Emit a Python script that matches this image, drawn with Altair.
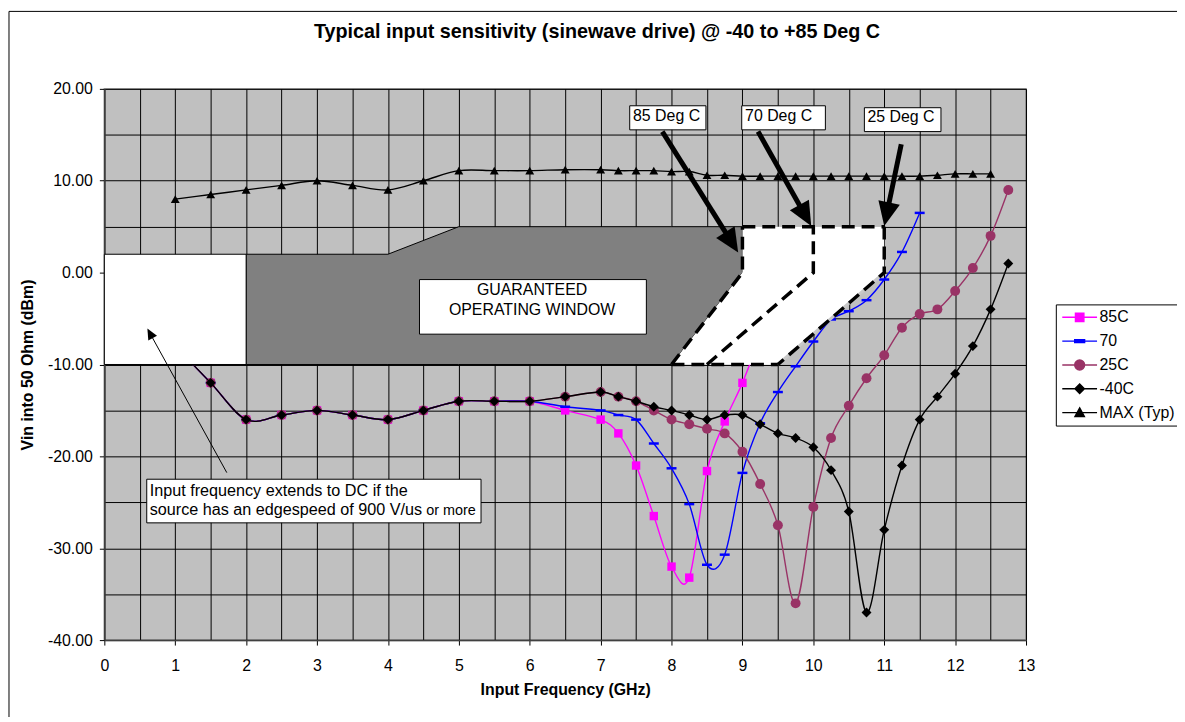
import math
import altair as alt
import pandas as pd

FONT = "Liberation Sans"
TITLE = "Typical input sensitivity (sinewave drive) @ -40 to +85 Deg C"
X_TITLE = "Input Frequency (GHz)"
Y_TITLE = "Vin into 50 Ohm (dBm)"

# ---------------- series data ----------------
series_names = ["85C", "70", "25C", "-40C", "MAX (Typ)"]
legend_labels = ["85C", "70", "25C", "\u00a0-40C", "MAX (Typ)"]

freq_85 = [1.0, 1.5, 2.0, 2.5, 3.0, 3.5, 4.0, 4.5, 5.0, 5.5, 6.0,
           6.5, 7.0, 7.25, 7.5, 7.75, 8.0, 8.25, 8.5, 8.75, 9.0, 9.25]
vin_85 = [-8, -12, -16, -15.5, -15, -15.5, -16, -15, -14, -14, -14,
          -15, -16, -17.5, -21, -26.5, -32, -33.2, -21.6, -16.2, -12, -7]

freq_70 = [1.0, 1.5, 2.0, 2.5, 3.0, 3.5, 4.0, 4.5, 5.0, 5.5, 6.0,
           6.5, 7.0, 7.25, 7.5, 7.75, 8.0, 8.25, 8.5, 8.75, 9.0, 9.25,
           9.5, 9.75, 10.0, 10.25, 10.5, 10.75, 11.0, 11.25, 11.5]
vin_70 = [-8, -12, -16, -15.5, -15, -15.5, -16, -15, -14, -14, -14,
          -14.6, -15, -15.5, -16, -18.6, -21.3, -25.2, -31.8, -30.7, -21.8, -16.4,
          -13, -10.2, -7.5, -5.1, -4.2, -3, -0.75, 2.25, 6.5]

freq_25 = [1.0, 1.5, 2.0, 2.5, 3.0, 3.5, 4.0, 4.5, 5.0, 5.5, 6.0,
           6.5, 7.0, 7.25, 7.5, 7.75, 8.0, 8.25, 8.5, 8.75, 9.0, 9.25,
           9.5, 9.75, 10.0, 10.25, 10.5, 10.75, 11.0, 11.25, 11.5, 11.75,
           12.0, 12.25, 12.5, 12.75]
vin_25 = [-8, -12, -16, -15.5, -15, -15.5, -16, -15, -14, -14, -14,
          -13.5, -13, -13.5, -14, -15, -16, -16.5, -17, -17.5, -19.5, -23,
          -27.5, -36, -25.5, -18, -14.5, -11.5, -9, -6, -4.5, -4,
          -2, 0.5, 4, 9]

freq_m40 = [1.0, 1.5, 2.0, 2.5, 3.0, 3.5, 4.0, 4.5, 5.0, 5.5, 6.0,
            6.5, 7.0, 7.25, 7.5, 7.75, 8.0, 8.25, 8.5, 8.75, 9.0, 9.25,
            9.5, 9.75, 10.0, 10.25, 10.5, 10.75, 11.0, 11.25, 11.5, 11.75,
            12.0, 12.25, 12.5, 12.75]
vin_m40 = [-8, -12, -16, -15.5, -15, -15.5, -16, -15, -14, -14, -14,
           -13.5, -13, -13.5, -14, -14.6, -15, -15.5, -16, -15.5, -15.5, -16.5,
           -17.5, -18, -19, -21.5, -26, -37, -28, -21, -16, -13.5,
           -11, -8, -4, 1]

freq_max = [1.0, 1.5, 2.0, 2.5, 3.0, 3.5, 4.0, 4.5, 5.0, 5.5, 6.0, 6.5,
            7.0, 7.25, 7.5, 7.75, 8.0, 8.25, 8.5, 8.75, 9.0, 9.25, 9.5, 9.75,
            10.0, 10.25, 10.5, 10.75, 11.0, 11.25, 11.5, 11.75, 12.0, 12.25, 12.5]
vin_max = [8, 8.5, 9, 9.5, 10, 9.5, 9, 10, 11.1, 11.1, 11.1, 11.2,
           11.2, 11.1, 11.1, 11.1, 11.0, 11.0, 10.6, 10.6, 10.5, 10.5, 10.5, 10.5,
           10.5, 10.5, 10.5, 10.5, 10.5, 10.5, 10.5, 10.6, 10.75, 10.75, 10.75]

# axis tick values
x_grid_values = [0, 0.5, 1, 1.5, 2, 2.5, 3, 3.5, 4, 4.5, 5, 5.5, 6, 6.5, 7, 7.5, 8, 8.5, 9,
                 9.5, 10, 10.5, 11, 11.5, 12, 12.5, 13]
x_label_values = [0, 1, 2, 3, 4, 5, 6, 7, 8, 9, 10, 11, 12, 13]
y_grid_values = [-40, -35, -30, -25, -20, -15, -10, -5, 0, 5, 10, 15, 20]
y_label_values = [-40, -30, -20, -10, 0, 10, 20]

# ---------------- annotation shapes (data units) ----------------
gray_x = [2, 4, 5, 8, 9]
gray_top = [2, 2, 5, 5, 5]
gray_bot = [-10, -10, -10, -10, 0]

win_piece = ["a", "a", "a", "b", "b", "b"]
win_x = [8, 9, 9.5, 9, 9.5, 11]
win_top = [-10, 0, 0, 5, 5, 5]
win_bot = [-10, -10, -10, -10, -10, 0]

dash_seg = ["s85", "s85", "s85", "top", "top", "s25", "s25", "s25", "bot", "bot", "s70", "s70", "s70"]
dash_x = [8, 9, 9, 9, 11, 11, 11, 9.5, 8, 9.5, 8.5, 10, 10]
dash_y = [-10, 0, 5, 5, 5, 5, 0, -10, -10, -10, -10, 0, 5]

dc_x = [0]
dc_x2 = [2]
dc_y = [2]
dc_y2 = [-10]

tbox_text = ["85 Deg C", "70 Deg C", "25 Deg C"]
tbox_x1 = [7.41, 8.99, 10.72]
tbox_x2 = [8.485, 10.17, 11.80]
tbox_y1 = [18.16, 18.16, 17.95]
tbox_y2 = [15.54, 15.54, 15.35]
tbox_tx = [7.93, 9.51, 11.236]
tbox_ty = [17.08, 17.08, 16.9]

arr_x0 = [7.87, 9.22, 11.24]
arr_y0 = [15.35, 15.35, 13.98]
arr_x1 = [8.94, 9.97, 11.0]
arr_y1 = [2.19, 5.08, 5.08]

thin_x0 = [1.727]
thin_y0 = [-21.77]
thin_x1 = [0.607]
thin_y1 = [-6.09]

gow_box = dict(x1=4.445, x2=7.645, y1=-0.757, y2=-6.70)
gow_lines = ["GUARANTEED", "OPERATING WINDOW"]
gow_tx = [6.033, 6.033]
gow_ty = [-1.90, -4.11]

note_box = dict(x1=0.598, x2=5.313, y1=-22.49, y2=-27.24)
note_lines = ["Input frequency extends to DC if the", "source has an edgespeed of 900 V/us"]
note_tx = [0.64, 0.64]
note_ty = [-24.29, -26.38]
note_small = ["or more"]
note_small_x = [4.539]
note_small_y = [-26.38]

# ---------------- geometry helpers ----------------
W, H = 928, 555
X_DOM = [0, 13]
Y_DOM = [-40, 20]
PX = W / (X_DOM[1] - X_DOM[0])
PY = H / (Y_DOM[1] - Y_DOM[0])


def arrow_frame(x0s, y0s, x1s, y1s, head_len):
    rows = []
    for x0, y0, x1, y1 in zip(x0s, y0s, x1s, y1s):
        dx = (x1 - x0) * PX
        dy = -(y1 - y0) * PY
        L = math.hypot(dx, dy)
        ux, uy = dx / L, dy / L
        bx = x1 - ux * head_len * 0.6 / PX
        by = y1 + uy * head_len * 0.6 / PY
        ang = (math.degrees(math.atan2(ux, -uy)) + 360.0) % 360.0
        rows.append(dict(x0=x0, y0=y0, bx=bx, by=by, tx=x1, ty=y1, ang=ang))
    return pd.DataFrame(rows)


xs = alt.Scale(domain=X_DOM, nice=False, zero=False)
ys = alt.Scale(domain=Y_DOM, nice=False, zero=False)

# grid-only axes (every 0.5 GHz / 5 dB)
x_grid_axis = alt.Axis(orient="top", values=x_grid_values, grid=True, gridColor="#000000", gridWidth=1,
                       labels=False, ticks=False, domain=False, title=None)
y_grid_axis = alt.Axis(orient="right", values=y_grid_values, grid=True, gridColor="#000000", gridWidth=1,
                       labels=False, ticks=False, domain=False, title=None)

series_df = pd.concat([
    pd.DataFrame({"s": "85C", "f": freq_85, "v": vin_85}),
    pd.DataFrame({"s": "70", "f": freq_70, "v": vin_70}),
    pd.DataFrame({"s": "25C", "f": freq_25, "v": vin_25}),
    pd.DataFrame({"s": "-40C", "f": freq_m40, "v": vin_m40}),
    pd.DataFrame({"s": "MAX (Typ)", "f": freq_max, "v": vin_max}),
], ignore_index=True)

DASH_PATH = "M-1,-0.25L1,-0.25L1,0.25L-1,0.25Z"
style = {
    "85C": dict(color="#FF00FF", shape="square", size=72),
    "70": dict(color="#0000FF", shape=DASH_PATH, size=100),
    "25C": dict(color="#993366", shape="circle", size=100),
    "-40C": dict(color="#000000", shape="diamond", size=100),
    "MAX (Typ)": dict(color="#000000", shape="triangle-up", size=80),
}

base = alt.Chart(series_df)
layers = []

# invisible layer carrying the grid
layers.append(base.mark_point(opacity=0).encode(
    x=alt.X("f:Q", scale=xs, axis=x_grid_axis),
    y=alt.Y("v:Q", scale=ys, axis=y_grid_axis)))

# chart-area border (decoration)
layers.append(
    alt.Chart(alt.Data(values=[{"b": 1}])).mark_rect(
        fillOpacity=0, stroke="#000000", strokeWidth=1
    ).encode(x=alt.value(-96), x2=alt.value(1300), y=alt.value(-78), y2=alt.value(800))
)

for name in series_names:
    st = style[name]
    sub = base.transform_filter(alt.datum.s == name)
    xe = alt.X("f:Q", scale=xs, axis=None)
    ye = alt.Y("v:Q", scale=ys, axis=None)
    layers.append(sub.mark_line(color=st["color"], strokeWidth=1.4, interpolate="cardinal").encode(x=xe, y=ye))
    layers.append(sub.mark_point(shape=st["shape"], size=st["size"], filled=True, color=st["color"], opacity=1).encode(
        x=xe, y=ye))

gray_df = pd.DataFrame({"x": gray_x, "t": gray_top, "b": gray_bot})
layers.append(alt.Chart(gray_df).mark_area(fill="#808080", stroke="#000000", strokeWidth=1, interpolate="linear").encode(
    x=alt.X("x:Q", scale=xs, axis=None),
    y=alt.Y("t:Q", scale=ys, axis=None, stack=None),
    y2="b:Q"))

dc_df = pd.DataFrame({"x": dc_x, "x2": dc_x2, "y": dc_y, "y2": dc_y2})
layers.append(alt.Chart(dc_df).mark_rect(fill="#FFFFFF", stroke="#000000", strokeWidth=1).encode(
    x=alt.X("x:Q", scale=xs, axis=None), x2="x2:Q",
    y=alt.Y("y:Q", scale=ys, axis=None), y2="y2:Q"))

win_df = pd.DataFrame({"p": win_piece, "x": win_x, "t": win_top, "b": win_bot})
layers.append(alt.Chart(win_df).mark_area(fill="#FFFFFF", interpolate="linear").encode(
    x=alt.X("x:Q", scale=xs, axis=None),
    y=alt.Y("t:Q", scale=ys, axis=None, stack=None),
    y2="b:Q", detail="p:N"))

diag_df = pd.DataFrame({"x": [9.5, 11], "y": [-10, 0]})
layers.append(alt.Chart(diag_df).mark_line(color="#C8C8C8", strokeWidth=3).encode(
    x=alt.X("x:Q", scale=xs, axis=None), y=alt.Y("y:Q", scale=ys, axis=None)))

dash_df = pd.DataFrame({"seg": dash_seg, "x": dash_x, "y": dash_y, "o": list(range(len(dash_x)))})
layers.append(alt.Chart(dash_df).mark_line(color="#000000", strokeWidth=3.5, strokeDash=[13, 7]).encode(
    x=alt.X("x:Q", scale=xs, axis=None), y=alt.Y("y:Q", scale=ys, axis=None),
    detail="seg:N", order="o:Q"))

HEAD = "M0,0L-1,2.2L1,2.2Z"
arr_df = arrow_frame(arr_x0, arr_y0, arr_x1, arr_y1, 24)
layers.append(alt.Chart(arr_df).mark_rule(color="#000000", strokeWidth=5).encode(
    x=alt.X("x0:Q", scale=xs, axis=None), y=alt.Y("y0:Q", scale=ys, axis=None),
    x2="bx:Q", y2="by:Q"))
layers.append(alt.Chart(arr_df).mark_point(shape=HEAD, size=484, filled=True, color="#000000", opacity=1).encode(
    x=alt.X("tx:Q", scale=xs, axis=None), y=alt.Y("ty:Q", scale=ys, axis=None),
    angle=alt.Angle("ang:Q", scale=None)))

tbox_df = pd.DataFrame({"t": tbox_text, "x1": tbox_x1, "x2": tbox_x2, "y1": tbox_y1, "y2": tbox_y2,
                        "tx": tbox_tx, "ty": tbox_ty})
layers.append(alt.Chart(tbox_df).mark_rect(fill="#FFFFFF", stroke="#000000", strokeWidth=1).encode(
    x=alt.X("x1:Q", scale=xs, axis=None), x2="x2:Q",
    y=alt.Y("y1:Q", scale=ys, axis=None), y2="y2:Q"))
layers.append(alt.Chart(tbox_df).mark_text(font=FONT, fontSize=16, color="#000000", align="center", baseline="middle").encode(
    x=alt.X("tx:Q", scale=xs, axis=None), y=alt.Y("ty:Q", scale=ys, axis=None), text="t:N"))

gow_box_df = pd.DataFrame([gow_box])
layers.append(alt.Chart(gow_box_df).mark_rect(fill="#FFFFFF", stroke="#000000", strokeWidth=1).encode(
    x=alt.X("x1:Q", scale=xs, axis=None), x2="x2:Q",
    y=alt.Y("y1:Q", scale=ys, axis=None), y2="y2:Q"))
gow_df = pd.DataFrame({"t": gow_lines, "x": gow_tx, "y": gow_ty})
layers.append(alt.Chart(gow_df).mark_text(font=FONT, fontSize=16, color="#000000", align="center", baseline="middle").encode(
    x=alt.X("x:Q", scale=xs, axis=None), y=alt.Y("y:Q", scale=ys, axis=None), text="t:N"))

THIN_HEAD = "M0,0L-1,2.2L1,2.2Z"
thin_df = arrow_frame(thin_x0, thin_y0, thin_x1, thin_y1, 11)
layers.append(alt.Chart(thin_df).mark_rule(color="#000000", strokeWidth=1).encode(
    x=alt.X("x0:Q", scale=xs, axis=None), y=alt.Y("y0:Q", scale=ys, axis=None),
    x2="bx:Q", y2="by:Q"))
layers.append(alt.Chart(thin_df).mark_point(shape=THIN_HEAD, size=100, filled=True, color="#000000", opacity=1).encode(
    x=alt.X("tx:Q", scale=xs, axis=None), y=alt.Y("ty:Q", scale=ys, axis=None),
    angle=alt.Angle("ang:Q", scale=None)))

note_box_df = pd.DataFrame([note_box])
layers.append(alt.Chart(note_box_df).mark_rect(fill="#FFFFFF", stroke="#000000", strokeWidth=1).encode(
    x=alt.X("x1:Q", scale=xs, axis=None), x2="x2:Q",
    y=alt.Y("y1:Q", scale=ys, axis=None), y2="y2:Q"))
note_df = pd.DataFrame({"t": note_lines, "x": note_tx, "y": note_ty})
layers.append(alt.Chart(note_df).mark_text(font=FONT, fontSize=16.3, color="#000000", align="left", baseline="alphabetic").encode(
    x=alt.X("x:Q", scale=xs, axis=None), y=alt.Y("y:Q", scale=ys, axis=None), text="t:N"))
small_df = pd.DataFrame({"t": note_small, "x": note_small_x, "y": note_small_y})
layers.append(alt.Chart(small_df).mark_text(font=FONT, fontSize=14.5, color="#000000", align="left", baseline="alphabetic").encode(
    x=alt.X("x:Q", scale=xs, axis=None), y=alt.Y("y:Q", scale=ys, axis=None), text="t:N"))

layers.append(alt.Chart(alt.Data(values=[{"t": TITLE}])).mark_text(
    font=FONT, fontSize=19.9, fontWeight="bold", color="#000000", align="center", baseline="alphabetic"
).encode(x=alt.value(496), y=alt.value(-51), text="t:N"))

# labelled axes (ticks only at integers / 10 dB), on a separate invisible layer
x_axis = alt.Axis(
    orient="bottom", values=x_label_values, title=X_TITLE, format="d", grid=False,
    tickColor="#000000", tickSize=5,
    domainColor="#404040", domainWidth=1.5,
    labelFont=FONT, labelFontSize=16, labelColor="#000000", labelPadding=13,
    labelFlush=False, labelOverlap=False,
    titleFont=FONT, titleFontSize=16, titleFontWeight="bold", titleColor="#000000",
    titleY=50, titleBaseline="middle",
)
y_axis = alt.Axis(
    orient="left", values=y_label_values, title=Y_TITLE, grid=False,
    labelExpr="(datum.value < 0 ? '-' : '') + format(abs(datum.value), '.2f')",
    tickColor="#000000", tickSize=5,
    domainColor="#404040", domainWidth=1.5,
    labelFont=FONT, labelFontSize=16, labelColor="#000000", labelPadding=7,
    labelOverlap=False,
    titleFont=FONT, titleFontSize=16, titleFontWeight="bold", titleColor="#000000",
    titleX=-77, titleY=277.5, titleAngle=270, titleAlign="center", titleBaseline="middle",
)

LEG_PATHS = [
    "M-3.5,0L3.5,0M-0.85,-0.85L0.85,-0.85L0.85,0.85L-0.85,0.85Z",
    "M-3.5,0L3.5,0M-1,-0.3L1,-0.3L1,0.3L-1,0.3Z",
    "M-3.5,0L3.5,0M-1,0A1,1,0,1,0,1,0A1,1,0,1,0,-1,0Z",
    "M-3.5,0L3.5,0M0,-0.95L0.95,0L0,0.95L-0.95,0Z",
    "M-3.5,0L3.5,0M0,-0.95L0.95,0.8L-0.95,0.8Z",
]
leg_colors = ["#FF00FF", "#0000FF", "#993366", "#000000", "#000000"]
leg = alt.Legend(title=None, orient="none", legendX=958, legendY=217)
leg_df = pd.DataFrame({"s": legend_labels})
layers.append(alt.Chart(leg_df).transform_filter("false").mark_point(filled=True, strokeWidth=1.4, opacity=1).encode(
    x=alt.value(0), y=alt.value(0),
    fill=alt.Fill("s:N", scale=alt.Scale(domain=legend_labels, range=leg_colors), legend=leg),
    stroke=alt.Stroke("s:N", scale=alt.Scale(domain=legend_labels, range=leg_colors), legend=leg),
    shape=alt.Shape("s:N", scale=alt.Scale(domain=legend_labels, range=LEG_PATHS), legend=leg),
))

# axis-carrying invisible layer on top
layers.append(base.mark_point(opacity=0).encode(
    x=alt.X("f:Q", scale=xs, axis=x_axis),
    y=alt.Y("v:Q", scale=ys, axis=y_axis)))

chart = alt.layer(*layers).resolve_axis(x="independent", y="independent").properties(
    width=W, height=H,
    padding={"left": 97, "top": 79, "right": 152, "bottom": 75},
    autosize=alt.AutoSizeParams(type="none"),
    background="#FFFFFF",
).configure(font=FONT).configure_view(
    fill="#C0C0C0", stroke="#808080", strokeWidth=1.5
).configure_legend(
    strokeColor="#000000", fillColor="#FFFFFF", padding=5,
    labelFont=FONT, labelFontSize=16, labelColor="#000000",
    symbolOffset=11, labelOffset=12, rowPadding=8, symbolSize=100, symbolStrokeWidth=1.4,
)

chart.save("out.html", embed_options={"renderer": "svg", "actions": False})
